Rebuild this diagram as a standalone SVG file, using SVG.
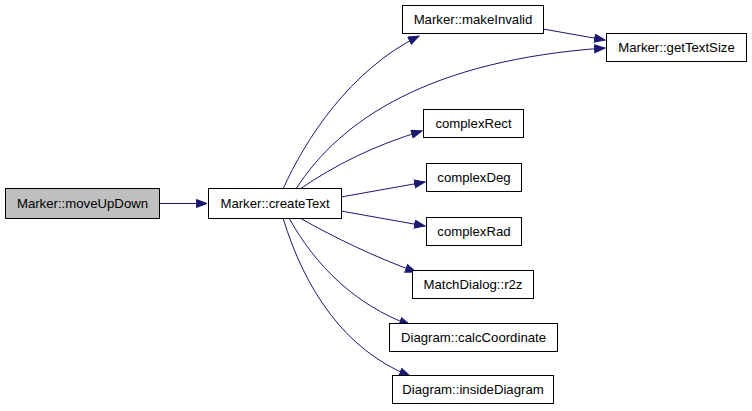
<svg xmlns="http://www.w3.org/2000/svg" width="752" height="411" viewBox="0 0 752 411">
<style>
.n rect{fill:#fff;stroke:#000;stroke-width:1}
.n text{font-family:"Liberation Sans",Arial,sans-serif;font-size:13.2px;text-anchor:middle;fill:#000}
.e path{fill:none;stroke:#191970;stroke-width:1}
</style>
<defs>
<marker id="a" markerWidth="13" markerHeight="10" refX="11" refY="4.5" orient="auto" markerUnits="userSpaceOnUse">
<path d="M0.5,0.5 L11,4.5 L0.5,8.5 z" fill="#191970" stroke="#191970"/>
</marker>
</defs>
<rect width="752" height="411" fill="#fff"/>
<g class="e">
<path d="M159,203.5 L207,203.5" marker-end="url(#a)"/>
<path d="M283,189 C305,140 350,70 419,36" marker-end="url(#a)"/>
<path d="M543,29 L605,40" marker-end="url(#a)"/>
<path d="M296,189 C340,120 430,60 605,48" marker-end="url(#a)"/>
<path d="M300,189 C335,165 375,145 422,131" marker-end="url(#a)"/>
<path d="M341,197 L425,182" marker-end="url(#a)"/>
<path d="M341,211 L425,226" marker-end="url(#a)"/>
<path d="M300,218 C335,238 375,257 416,272" marker-end="url(#a)"/>
<path d="M289,218 C315,265 355,305 410,325" marker-end="url(#a)"/>
<path d="M283,218 C305,290 345,350 410,376" marker-end="url(#a)"/>
</g>
<g id="moveUpDown" class="n"><rect x="5.5" y="188.5" width="154" height="30" style="fill:#bfbfbf"/><text x="82.5" y="208">Marker::moveUpDown</text></g>
<g id="createText" class="n"><rect x="208.5" y="188.5" width="133" height="30"/><text x="275" y="208">Marker::createText</text></g>
<g id="makeInvalid" class="n"><rect x="402.5" y="5.5" width="141" height="28"/><text x="473" y="24">Marker::makeInvalid</text></g>
<g id="getTextSize" class="n"><rect x="606.5" y="33.5" width="140" height="28"/><text x="676.5" y="52">Marker::getTextSize</text></g>
<g id="complexRect" class="n"><rect x="423.5" y="109.5" width="100" height="28"/><text x="473.5" y="128">complexRect</text></g>
<g id="complexDeg" class="n"><rect x="426.5" y="163.5" width="95" height="28"/><text x="474" y="182">complexDeg</text></g>
<g id="complexRad" class="n"><rect x="426.5" y="217.5" width="95" height="28"/><text x="474" y="236">complexRad</text></g>
<g id="r2z" class="n"><rect x="412.5" y="270.5" width="121" height="28"/><text x="473" y="289">MatchDialog::r2z</text></g>
<g id="calcCoordinate" class="n"><rect x="389.5" y="323.5" width="168" height="28"/><text x="473.5" y="342">Diagram::calcCoordinate</text></g>
<g id="insideDiagram" class="n"><rect x="392.5" y="375.5" width="161" height="28"/><text x="473" y="394">Diagram::insideDiagram</text></g>
</svg>
